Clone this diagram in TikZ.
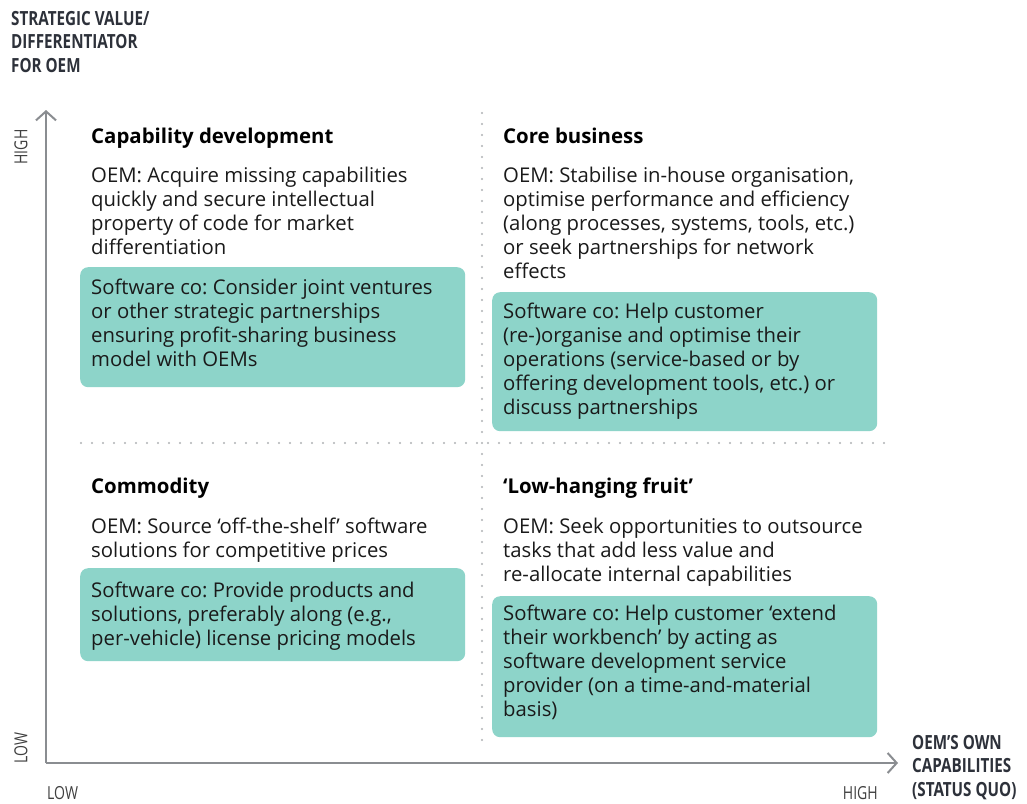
\documentclass[tikz,border=0pt]{standalone}
\usepackage{fontspec}
\setmainfont{Open Sans}
\newfontfamily\condfont[FakeStretch=0.78]{Open Sans}
\usetikzlibrary{arrows.meta,positioning}

\definecolor{boxteal}{RGB}{141,212,201}
\definecolor{axisgrey}{RGB}{138,141,145}
\definecolor{dotgrey}{RGB}{175,178,180}
\definecolor{titleslate}{RGB}{45,49,58}
\definecolor{bodyink}{RGB}{26,26,26}

\newcommand{\lines}[1]{\parbox[t]{380pt}{\raggedright #1}}
\newcommand{\shortlines}[1]{\parbox[t]{110pt}{\raggedright #1}}
\frenchspacing

\begin{document}
\begin{tikzpicture}[x=1pt,y=-1pt,
axis/.style={draw=axisgrey, line width=2pt, -{Straight Barb[length=9pt,width=20pt,line width=2pt]}},
divider/.style={draw=dotgrey, line width=2.2pt, line cap=round, dash pattern=on 0pt off 11pt},
quadhead/.style={anchor=base west, inner sep=0pt, text=black, font=\fontsize{20.4}{24}\selectfont\bfseries},
oemtext/.style={anchor=base west, inner sep=0pt, text=bodyink, font=\fontsize{20.3}{24}\selectfont},
swbox/.style={anchor=north west, fill=boxteal, rounded corners=8pt, minimum width=385pt, inner sep=0pt},
axistitle/.style={anchor=base west, inner sep=0pt, text=titleslate, font=\condfont\fontsize{19.5}{23.5}\selectfont\bfseries},
ticklabel/.style={inner sep=0pt, text=black!75, font=\condfont\fontsize{18}{20}\selectfont}]
\fill [white] (0,0) rectangle (1027,803);
\useasboundingbox (0,0) rectangle (1027,803);

% axes
\coordinate (origin) at (46,763);
\coordinate (ytip) at (46,110);
\coordinate (xtip) at (898,763);
\draw [axis] (origin) -- (ytip);
\draw [axis] (origin) -- (xtip);

% quadrant dividers
\coordinate (vtop) at (482,113);
\coordinate (vbot) at (482,745);
\coordinate (hleft) at (81,443);
\coordinate (hright) at (885,443);
\draw [divider] (vtop) -- (vbot);
\draw [divider] (hleft) -- (hright);

% axis titles and ticks
\node [axistitle] (ytitle) at (11,25) {\lines{STRATEGIC VALUE/\\DIFFERENTIATOR\\FOR OEM}};
\node [axistitle] (xtitle) at (912,749) {\shortlines{OEM’S OWN\\CAPABILITIES\\(STATUS QUO)}};
\node [ticklabel, rotate=90] (yhigh) at (21,147) {HIGH};
\node [ticklabel, rotate=90] (ylow) at (21,748) {LOW};
\node [ticklabel, anchor=base west] (xlow) at (47,799) {LOW};
\node [ticklabel, anchor=base east] (xhigh) at (878,799) {HIGH};

% capability development
\node [quadhead] (capdev) at (91,143) {Capability development};
\node [oemtext] (capdevoem) at (91,182) {\lines{OEM: Acquire missing capabilities\\quickly and secure intellectual\\property of code for market\\differentiation}};
\node [swbox, minimum height=120pt] (capdevbox) at (80,267) {};
\node [oemtext] (capdevsw) at (91,294) {\lines{Software co: Consider joint ventures\\or other strategic partnerships\\ensuring profit-sharing business\\model with OEMs}};

% core business
\node [quadhead] (core) at (503,143) {Core business};
\node [oemtext] (coreoem) at (503,182) {\lines{OEM: Stabilise in-house organisation,\\optimise performance and efficiency\\(along processes, systems, tools, etc.)\\or seek partnerships for network\\effects}};
\node [swbox, minimum height=139pt] (corebox) at (492,292) {};
\node [oemtext] (coresw) at (503,318) {\lines{Software co: Help customer\\(re-)organise and optimise their\\operations (service-based or by\\offering development tools, etc.) or\\discuss partnerships}};

% commodity
\node [quadhead] (commod) at (91,493) {Commodity};
\node [oemtext] (commodoem) at (91,533) {\lines{OEM: Source ‘off-the-shelf’ software\\solutions for competitive prices}};
\node [swbox, minimum height=93pt] (commodbox) at (80,568) {};
\node [oemtext] (commodsw) at (91,597) {\lines{Software co: Provide products and\\solutions, preferably along (e.g.,\\per-vehicle) license pricing models}};

% low-hanging fruit
\node [quadhead] (fruit) at (503,493) {‘Low-hanging fruit’};
\node [oemtext] (fruitoem) at (503,533) {\lines{OEM: Seek opportunities to outsource\\tasks that add less value and\\re-allocate internal capabilities}};
\node [swbox, minimum height=141pt] (fruitbox) at (492,596) {};
\node [oemtext] (fruitsw) at (503,620) {\lines{Software co: Help customer ‘extend\\their workbench’ by acting as\\software development service\\provider (on a time-and-material\\basis)}};
\end{tikzpicture}
\end{document}
